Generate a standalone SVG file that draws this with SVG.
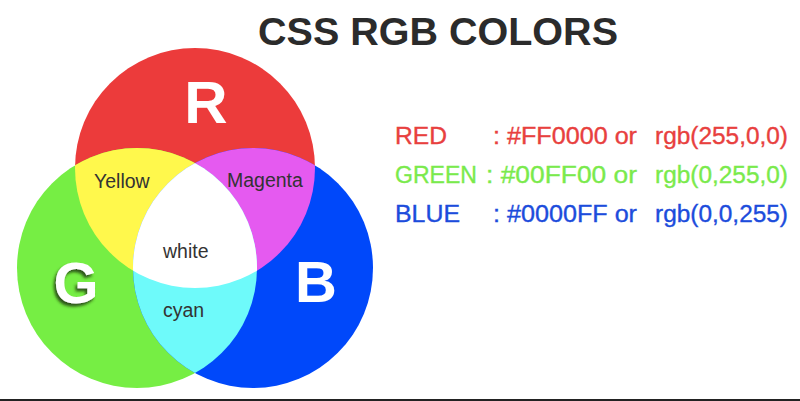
<svg xmlns="http://www.w3.org/2000/svg" width="800" height="401" viewBox="0 0 800 401">
<style>
.big{font-family:"Liberation Sans",Arial,sans-serif;font-weight:bold;fill:#fff;text-anchor:middle}
.lbl{font-family:"Liberation Sans",Arial,sans-serif;font-size:19.5px;fill:#333}
.row{font-family:"Liberation Sans",Arial,sans-serif;font-size:23.5px;stroke-width:0.35px}
.r{fill:#E8403E;stroke:#E8403E}.g{fill:#7AEA4C;stroke:#7AEA4C}.b{fill:#1C4CDC;stroke:#1C4CDC}
</style>
<defs>
<clipPath id="cR"><circle cx="195" cy="168" r="120"/></clipPath>
<clipPath id="cG"><circle cx="137" cy="268" r="120"/></clipPath>
<clipPath id="cB"><circle cx="253" cy="268" r="120"/></clipPath>
<filter id="sh" x="-30%" y="-30%" width="160%" height="160%">
<feDropShadow dx="-2" dy="3" stdDeviation="1.8" flood-color="#1a3a10" flood-opacity="0.85"/>
</filter>
</defs>
<rect width="800" height="401" fill="#fff"/>
<text x="258" y="45" font-family="'Liberation Sans',Arial,sans-serif" font-weight="bold" font-size="39" fill="#2b2b2b" textLength="360" lengthAdjust="spacingAndGlyphs">CSS RGB COLORS</text>
<g id="red"><circle cx="195" cy="168" r="120" fill="#EC3B3B"/></g>
<g id="green"><circle cx="137" cy="268" r="120" fill="#76EE44"/></g>
<g id="blue"><circle cx="253" cy="268" r="120" fill="#0048FA"/></g>
<g id="yellow" clip-path="url(#cR)"><circle cx="137" cy="268" r="120" fill="#FFF84C"/></g>
<g id="magenta" clip-path="url(#cR)"><circle cx="253" cy="268" r="120" fill="#E55AF0"/></g>
<g id="cyan" clip-path="url(#cG)"><circle cx="253" cy="268" r="120" fill="#6EFAFA"/></g>
<g id="white" clip-path="url(#cR)"><g clip-path="url(#cG)"><circle cx="253" cy="268" r="120" fill="#fff"/></g></g>
<text class="big" x="206" y="123" font-size="60">R</text>
<text class="big" x="76" y="303" font-size="58" filter="url(#sh)">G</text>
<text class="big" x="316" y="302" font-size="58">B</text>
<text class="lbl" x="94" y="188">Yellow</text>
<text class="lbl" x="227" y="187">Magenta</text>
<text class="lbl" x="163" y="258">white</text>
<text class="lbl" x="163" y="317">cyan</text>
<g id="legend">
<text class="row r" x="395" y="144" textLength="52" lengthAdjust="spacingAndGlyphs">RED</text>
<text class="row r" x="493" y="144" textLength="144" lengthAdjust="spacingAndGlyphs">: #FF0000 or</text>
<text class="row r" x="655" y="144" textLength="133" lengthAdjust="spacingAndGlyphs">rgb(255,0,0)</text>
<text class="row g" x="395" y="183" textLength="82" lengthAdjust="spacingAndGlyphs">GREEN</text>
<text class="row g" x="486" y="183" textLength="151" lengthAdjust="spacingAndGlyphs">: #00FF00 or</text>
<text class="row g" x="655" y="183" textLength="133" lengthAdjust="spacingAndGlyphs">rgb(0,255,0)</text>
<text class="row b" x="395" y="222" textLength="65" lengthAdjust="spacingAndGlyphs">BLUE</text>
<text class="row b" x="493" y="222" textLength="144" lengthAdjust="spacingAndGlyphs">: #0000FF or</text>
<text class="row b" x="655" y="222" textLength="133" lengthAdjust="spacingAndGlyphs">rgb(0,0,255)</text>
</g>
<rect x="0" y="399" width="800" height="2" fill="#222"/>
</svg>
